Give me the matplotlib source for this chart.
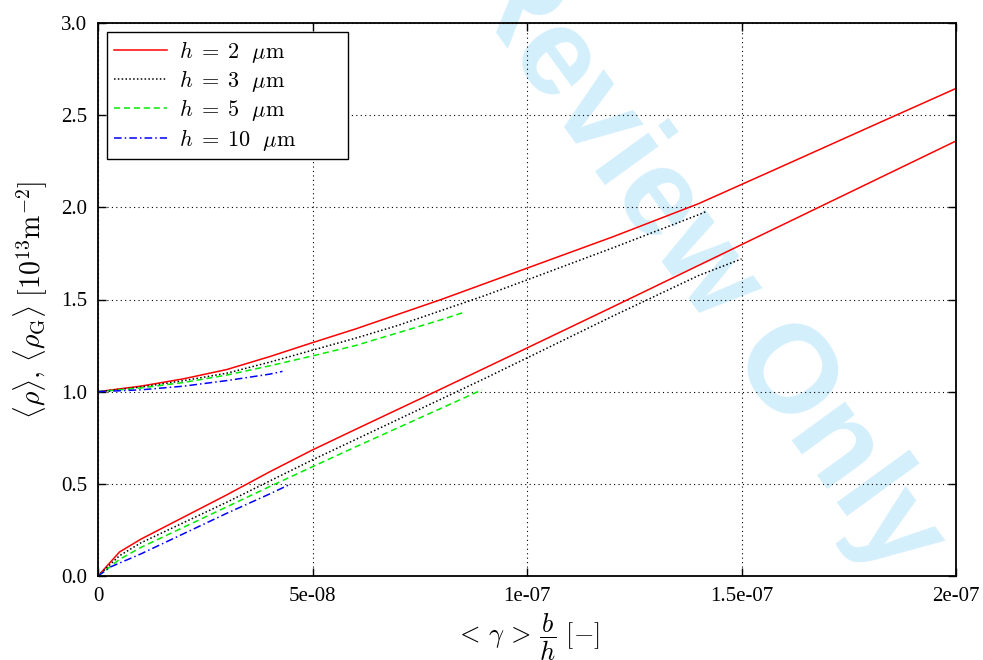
import matplotlib
matplotlib.use("Agg")
import matplotlib.pyplot as plt
from matplotlib.ticker import FixedLocator, FixedFormatter

plt.rcParams['font.family'] = ['Liberation Serif', 'DejaVu Serif']
plt.rcParams['mathtext.fontset'] = 'cm'

# x in units of 1e-8
x_h2_up = [0, 1, 2, 3, 4, 5, 6, 7, 8, 9, 10, 12, 14, 16, 18, 20]
y_h2_up = [1.0, 1.03, 1.07, 1.12, 1.19, 1.266, 1.34, 1.42, 1.50, 1.585, 1.67, 1.84, 2.02, 2.228, 2.437, 2.645]
x_h2_lo = [0, 0.5, 1, 2, 3, 4, 5, 6, 7, 8, 9, 10, 12, 14, 16, 18, 20]
y_h2_lo = [0, 0.13, 0.2, 0.32, 0.44, 0.565, 0.684, 0.795, 0.905, 1.015, 1.126, 1.237, 1.46, 1.685, 1.91, 2.135, 2.36]

x_h3_up = [0, 1, 2, 3, 4, 5, 6, 7, 8, 9, 10, 12, 14, 14.2]
y_h3_up = [1.0, 1.025, 1.06, 1.10, 1.16, 1.225, 1.29, 1.36, 1.44, 1.52, 1.606, 1.78, 1.96, 1.98]
x_h3_lo = [0, 0.5, 1, 2, 3, 4, 5, 6, 7, 8, 9, 10, 12, 14, 15]
y_h3_lo = [0, 0.11, 0.18, 0.29, 0.40, 0.515, 0.63, 0.74, 0.85, 0.96, 1.07, 1.183, 1.41, 1.63, 1.72]

x_h5_up = [0, 1, 2, 3, 4, 5, 6, 7, 8, 8.55]
y_h5_up = [1.0, 1.02, 1.05, 1.09, 1.14, 1.194, 1.25, 1.32, 1.39, 1.432]
x_h5_lo = [0, 0.5, 1, 2, 3, 4, 5, 6, 7, 8, 8.95]
y_h5_lo = [0, 0.09, 0.155, 0.265, 0.375, 0.485, 0.593, 0.70, 0.805, 0.91, 1.01]

x_h10_up = [0, 1, 2, 3, 4, 4.3]
y_h10_up = [1.0, 1.01, 1.03, 1.06, 1.095, 1.11]
x_h10_lo = [0, 0.3, 1, 2, 3, 4, 4.5]
y_h10_lo = [0, 0.05, 0.12, 0.23, 0.34, 0.445, 0.5]

labels = [r'$h\;=\;2\ \ \mu\mathrm{m}$', r'$h\;=\;3\ \ \mu\mathrm{m}$',
          r'$h\;=\;5\ \ \mu\mathrm{m}$', r'$h\;=\;10\ \ \mu\mathrm{m}$']
xticks = [0, 5e-8, 1e-7, 1.5e-7, 2e-7]
xticklabels = ['0', '5e-08', '1e-07', '1.5e-07', '2e-07']
yticks = [0.0, 0.5, 1.0, 1.5, 2.0, 2.5, 3.0]
yticklabels = ['0.0', '0.5', '1.0', '1.5', '2.0', '2.5', '3.0']

def sc(xs):
    return [v * 1e-8 for v in xs]

fig = plt.figure(figsize=(9.83, 6.6), dpi=100)
ax = fig.add_axes([98/983, 1-576/660, (956-98)/983, (576-23)/660])
ax.patch.set_visible(False)

fig.text(699/983, 1-260/660, 'Review Only', rotation=-54, fontsize=90, fontweight='bold',
         family='Liberation Sans', color='#d4effc', ha='center', va='center', zorder=-5)

lw = 1.1
styles = [dict(color='red', ls='-'),
          dict(color='black', ls=(0, (1, 1.5))),
          dict(color='#00ee00', ls=(0, (4, 2.5))),
          dict(color='blue', ls=(0, (5, 2, 1, 2)))]
data = [(x_h2_up, y_h2_up, x_h2_lo, y_h2_lo),
        (x_h3_up, y_h3_up, x_h3_lo, y_h3_lo),
        (x_h5_up, y_h5_up, x_h5_lo, y_h5_lo),
        (x_h10_up, y_h10_up, x_h10_lo, y_h10_lo)]
for (xu, yu, xl, yl), st, lab in zip(data, styles, labels):
    ax.plot(sc(xu), yu, lw=lw, label=lab + '\u2003\u2003\u2002', **st)
    ax.plot(sc(xl), yl, lw=lw, **st)

ax.set_xlim(0, 2e-7)
ax.set_ylim(0, 3.0)
ax.xaxis.set_major_locator(FixedLocator(xticks))
ax.xaxis.set_major_formatter(FixedFormatter(xticklabels))
ax.yaxis.set_major_locator(FixedLocator(yticks))
ax.yaxis.set_major_formatter(FixedFormatter(yticklabels))
ax.grid(True, color='black', ls=(0, (1, 3)), lw=0.8)
ax.tick_params(direction='in', top=True, right=True, length=6, width=1, labelsize=15, pad=8)
for s in ax.spines.values():
    s.set_linewidth(1.3)

ax.set_xlabel(r'$<\,\gamma\,>\,\dfrac{b}{h}\ [-]$', fontsize=19, labelpad=4)
ax.set_ylabel(r'$\langle\rho\rangle,\,\langle\rho_{\rm G}\rangle\ [10^{13}\mathrm{m}^{-2}]$', fontsize=20, labelpad=8)

leg = ax.legend(loc='upper left', fontsize=16, frameon=True, fancybox=False,
                edgecolor='black', framealpha=1, borderaxespad=0.4, handlelength=2.4,
                handletextpad=0.55, labelspacing=0.15, borderpad=0.3)
leg.get_frame().set_linewidth(1.0)

fig.savefig('out.png', dpi=100)
